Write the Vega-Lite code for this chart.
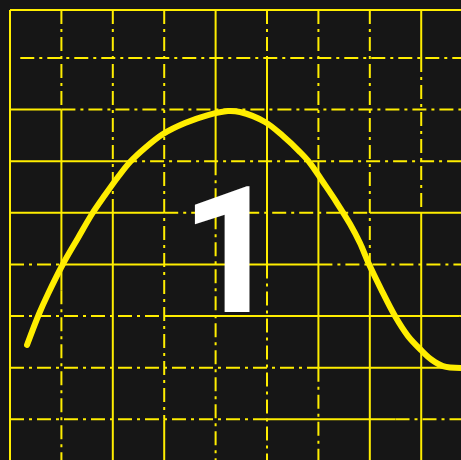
{
  "$schema": "https://vega.github.io/schema/vega-lite/v6.json",
  "width": 461,
  "height": 460,
  "autosize": {"type": "fit", "contains": "padding"},
  "padding": 0,
  "background": "#161616",
  "config": {"view": {"stroke": null}},
  "datasets": {
    "grid": [
      {"x": 0, "x2": 0, "y": 0.07, "y2": 8.8, "style": "solid"},
      {"x": 1, "x2": 1, "y": 0.07, "y2": 2, "style": "dash"},
      {"x": 1, "x2": 1, "y": 2, "y2": 5.5, "style": "solid"},
      {"x": 1, "x2": 1, "y": 5.5, "y2": 8.8, "style": "dash"},
      {"x": 2, "x2": 2, "y": 0.07, "y2": 4, "style": "dash"},
      {"x": 2, "x2": 2, "y": 4, "y2": 8.8, "style": "solid"},
      {"x": 3, "x2": 3, "y": 0.07, "y2": 8, "style": "dash"},
      {"x": 3, "x2": 3, "y": 8, "y2": 8.8, "style": "solid"},
      {"x": 4, "x2": 4, "y": 0.07, "y2": 3, "style": "solid"},
      {"x": 4, "x2": 4, "y": 3, "y2": 8.8, "style": "dash"},
      {"x": 5, "x2": 5, "y": 0.07, "y2": 1, "style": "dash"},
      {"x": 5, "x2": 5, "y": 1, "y2": 5, "style": "solid"},
      {"x": 5, "x2": 5, "y": 5, "y2": 8.8, "style": "dash"},
      {"x": 6, "x2": 6, "y": 0.07, "y2": 3, "style": "dash"},
      {"x": 6, "x2": 6, "y": 3, "y2": 7, "style": "solid"},
      {"x": 6, "x2": 6, "y": 7, "y2": 8.8, "style": "dash"},
      {"x": 7, "x2": 7, "y": 0.07, "y2": 5, "style": "dash"},
      {"x": 7, "x2": 7, "y": 5, "y2": 8.8, "style": "solid"},
      {"x": 8, "x2": 8, "y": 0.07, "y2": 1, "style": "solid"},
      {"x": 8, "x2": 8, "y": 1, "y2": 4, "style": "dash"},
      {"x": 8, "x2": 8, "y": 4, "y2": 8.8, "style": "solid"},
      {"x": 0, "x2": 8.8, "y": 0.07, "y2": 0.07, "style": "solid"},
      {"x": 0.2, "x2": 8.8, "y": 1, "y2": 1, "style": "dash"},
      {"x": 0, "x2": 1, "y": 2, "y2": 2, "style": "solid"},
      {"x": 1, "x2": 8.8, "y": 2, "y2": 2, "style": "dash"},
      {"x": 0, "x2": 2.2, "y": 3, "y2": 3, "style": "solid"},
      {"x": 2.2, "x2": 8.8, "y": 3, "y2": 3, "style": "dash"},
      {"x": 0, "x2": 3, "y": 4, "y2": 4, "style": "solid"},
      {"x": 3, "x2": 7, "y": 4, "y2": 4, "style": "dash"},
      {"x": 7, "x2": 8.8, "y": 4, "y2": 4, "style": "solid"},
      {"x": 0, "x2": 1, "y": 5, "y2": 5, "style": "dash"},
      {"x": 1, "x2": 6, "y": 5, "y2": 5, "style": "solid"},
      {"x": 6, "x2": 8.8, "y": 5, "y2": 5, "style": "dash"},
      {"x": 0, "x2": 3, "y": 6, "y2": 6, "style": "dash"},
      {"x": 3, "x2": 8.8, "y": 6, "y2": 6, "style": "solid"},
      {"x": 0, "x2": 6, "y": 7, "y2": 7, "style": "dash"},
      {"x": 6, "x2": 8.8, "y": 7, "y2": 7, "style": "solid"},
      {"x": 0, "x2": 5, "y": 8, "y2": 8, "style": "dash"},
      {"x": 5, "x2": 7.5, "y": 8, "y2": 8, "style": "solid"},
      {"x": 7.5, "x2": 8.8, "y": 8, "y2": 8, "style": "dash"}
    ],
    "trace": [
      {"t": 0.331, "v": 6.562},
      {"t": 0.564, "v": 5.961},
      {"t": 0.739, "v": 5.574},
      {"t": 1.031, "v": 4.992},
      {"t": 1.323, "v": 4.488},
      {"t": 1.595, "v": 4.023},
      {"t": 1.848, "v": 3.655},
      {"t": 2.101, "v": 3.306},
      {"t": 2.335, "v": 3.016},
      {"t": 2.626, "v": 2.744},
      {"t": 2.977, "v": 2.473},
      {"t": 3.405, "v": 2.26},
      {"t": 3.852, "v": 2.105},
      {"t": 4.241, "v": 2.027},
      {"t": 4.475, "v": 2.047},
      {"t": 4.961, "v": 2.24},
      {"t": 5.311, "v": 2.512},
      {"t": 5.642, "v": 2.822},
      {"t": 5.837, "v": 3.035},
      {"t": 6.089, "v": 3.403},
      {"t": 6.362, "v": 3.81},
      {"t": 6.615, "v": 4.217},
      {"t": 6.809, "v": 4.585},
      {"t": 6.965, "v": 4.953},
      {"t": 7.218, "v": 5.477},
      {"t": 7.49, "v": 6.0},
      {"t": 7.743, "v": 6.388},
      {"t": 7.996, "v": 6.659},
      {"t": 8.21, "v": 6.853},
      {"t": 8.424, "v": 6.969},
      {"t": 8.774, "v": 7.008}
    ],
    "label": [{"x": 4.3, "y": 5.922, "text": "1"}]
  },
  "layer": [
    {
      "data": {"name": "grid"},
      "mark": {"type": "rule", "color": "#ffee00", "strokeWidth": 2, "clip": true},
      "encoding": {
        "x": {"field": "x", "type": "quantitative", "scale": {"domain": [-0.1946, 8.774], "nice": false, "zero": false}, "axis": null},
        "x2": {"field": "x2"},
        "y": {"field": "y", "type": "quantitative", "scale": {"domain": [-0.124, 8.79], "nice": false, "zero": false, "reverse": true}, "axis": null},
        "y2": {"field": "y2"},
        "strokeDash": {"field": "style", "type": "nominal", "scale": {"domain": ["solid", "dash"], "range": [[1, 0], [14, 5, 3, 5]]}, "legend": null}
      }
    },
    {
      "data": {"name": "trace"},
      "mark": {"type": "line", "color": "#ffee00", "strokeWidth": 6, "strokeCap": "round", "interpolate": "catmull-rom", "clip": true},
      "encoding": {
        "x": {"field": "t", "type": "quantitative"},
        "y": {"field": "v", "type": "quantitative"}
      }
    },
    {
      "data": {"name": "label"},
      "mark": {"type": "text", "color": "#ffffff", "font": "Roboto", "fontWeight": "bold", "fontSize": 176, "align": "center", "baseline": "alphabetic"},
      "encoding": {
        "x": {"field": "x", "type": "quantitative"},
        "y": {"field": "y", "type": "quantitative"},
        "text": {"field": "text"}
      }
    }
  ]
}
